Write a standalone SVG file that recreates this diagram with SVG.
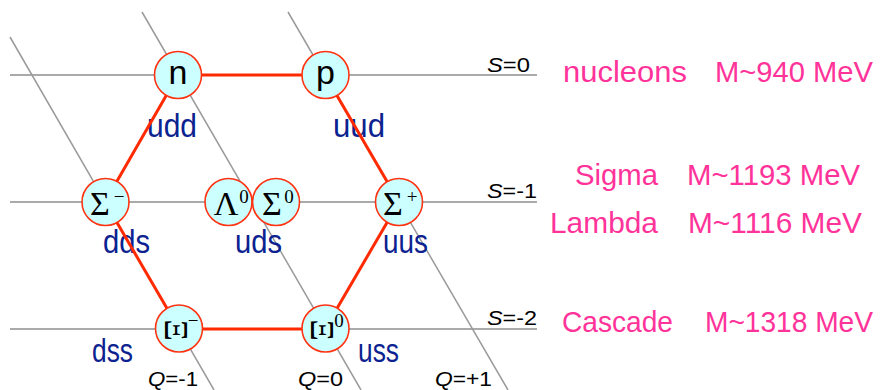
<svg xmlns="http://www.w3.org/2000/svg" width="880" height="390" viewBox="0 0 880 390">
<style>
.h{stroke:#aaaaaa;stroke-width:2;fill:none}
.d{stroke:#9a9a9a;stroke-width:1.5;fill:none}
.e{stroke:#ff2a00;stroke-width:3;fill:none}
.c{fill:#ccffff;stroke:#ff3311;stroke-width:1.6}
.q{font-family:"Liberation Sans",Arial,sans-serif;font-size:34px;fill:#0b2290}
.m{font-family:"Liberation Sans",Arial,sans-serif;font-size:30px;fill:#ff3399}
.s{font-family:"Liberation Sans",Arial,sans-serif;font-size:20px;fill:#000}
.l{font-family:"Liberation Sans",Arial,sans-serif;font-size:34px;fill:#000;text-anchor:middle}
.g{font-family:"Liberation Serif","Times New Roman",serif;font-size:34px;fill:#000;text-anchor:middle}
.x{font-family:"Liberation Serif","Times New Roman",serif;font-size:33px;fill:#000;text-anchor:middle}
.sup{font-family:"Liberation Serif","Times New Roman",serif;font-size:19px;fill:#000;text-anchor:middle}
</style>
<rect width="880" height="390" fill="#ffffff"/>
<g id="grid">
<line class="h" x1="10" y1="75" x2="537" y2="75"/>
<line class="h" x1="10" y1="202" x2="537" y2="202"/>
<line class="h" x1="10" y1="329" x2="537" y2="329"/>
<line class="d" x1="10" y1="37" x2="214" y2="390"/>
<line class="d" x1="142" y1="12" x2="361" y2="390"/>
<line class="d" x1="288" y1="12" x2="508" y2="390"/>
</g>
<g id="quark-labels">
<text class="q" x="147" y="137" textLength="50" lengthAdjust="spacingAndGlyphs">udd</text>
<text class="q" x="333" y="137" textLength="52" lengthAdjust="spacingAndGlyphs">uud</text>
<text class="q" x="103" y="253" textLength="47" lengthAdjust="spacingAndGlyphs">dds</text>
<text class="q" x="235" y="253" textLength="47" lengthAdjust="spacingAndGlyphs">uds</text>
<text class="q" x="383" y="253" textLength="45" lengthAdjust="spacingAndGlyphs">uus</text>
<text class="q" x="92" y="362" textLength="41" lengthAdjust="spacingAndGlyphs">dss</text>
<text class="q" x="358" y="362" textLength="41" lengthAdjust="spacingAndGlyphs">uss</text>
</g>
<g id="connectors">
<line class="e" x1="178" y1="75" x2="325" y2="75"/>
<line class="e" x1="325" y1="75" x2="399" y2="202"/>
<line class="e" x1="399" y1="202" x2="325" y2="329"/>
<line class="e" x1="325" y1="329" x2="179" y2="329"/>
<line class="e" x1="179" y1="329" x2="105" y2="202"/>
<line class="e" x1="105" y1="202" x2="178" y2="75"/>
</g>
<g id="node-n"><circle class="c" cx="178" cy="75" r="23.5"/><text class="l" x="178" y="84">n</text></g>
<g id="node-p"><circle class="c" cx="325.5" cy="75" r="23.5"/><text class="l" x="325.5" y="84">p</text></g>
<g id="node-sigma-minus"><circle class="c" cx="105.5" cy="202" r="23.5"/><text class="g" x="100" y="215">Σ</text><text class="sup" x="119" y="203">−</text></g>
<g id="node-lambda0"><circle class="c" cx="228.5" cy="202" r="23.5"/><text class="g" x="226" y="215">Λ</text><text class="sup" x="244" y="203">0</text></g>
<g id="node-sigma0"><circle class="c" cx="276" cy="202" r="23.5"/><text class="g" x="272" y="215">Σ</text><text class="sup" x="289" y="203">0</text></g>
<g id="node-sigma-plus"><circle class="c" cx="399" cy="202" r="23.5"/><text class="g" x="393" y="215">Σ</text><text class="sup" x="412" y="203">+</text></g>
<g id="node-xi-minus"><circle class="c" cx="179" cy="328.5" r="23.5"/><text class="x" transform="translate(176,330) rotate(90)" x="0" y="11">Ξ</text><text class="sup" x="193" y="327">−</text></g>
<g id="node-xi0"><circle class="c" cx="325.5" cy="328.5" r="23.5"/><text class="x" transform="translate(322,330) rotate(90)" x="0" y="11">Ξ</text><text class="sup" x="339" y="327">0</text></g>
<g id="axis-labels">
<text class="s" x="487" y="72" textLength="43" lengthAdjust="spacingAndGlyphs"><tspan font-style="italic">S</tspan>=0</text>
<text class="s" x="487" y="198" textLength="50" lengthAdjust="spacingAndGlyphs"><tspan font-style="italic">S</tspan>=-1</text>
<text class="s" x="487" y="325" textLength="50" lengthAdjust="spacingAndGlyphs"><tspan font-style="italic">S</tspan>=-2</text>
<text class="s" x="148" y="386" textLength="50" lengthAdjust="spacingAndGlyphs"><tspan font-style="italic">Q</tspan>=-1</text>
<text class="s" x="298" y="386" textLength="45" lengthAdjust="spacingAndGlyphs"><tspan font-style="italic">Q</tspan>=0</text>
<text class="s" x="435" y="386" textLength="57" lengthAdjust="spacingAndGlyphs"><tspan font-style="italic">Q</tspan>=+1</text>
</g>
<g id="mass-labels">
<text class="m" x="563" y="82" textLength="124" lengthAdjust="spacingAndGlyphs">nucleons</text>
<text class="m" x="715" y="82" textLength="158" lengthAdjust="spacingAndGlyphs">M~940 MeV</text>
<text class="m" x="575" y="185" textLength="83" lengthAdjust="spacingAndGlyphs">Sigma</text>
<text class="m" x="687" y="185" textLength="173" lengthAdjust="spacingAndGlyphs">M~1193 MeV</text>
<text class="m" x="550" y="233" textLength="108" lengthAdjust="spacingAndGlyphs">Lambda</text>
<text class="m" x="688" y="233" textLength="174" lengthAdjust="spacingAndGlyphs">M~1116 MeV</text>
<text class="m" x="562" y="332" textLength="111" lengthAdjust="spacingAndGlyphs">Cascade</text>
<text class="m" x="705" y="332" textLength="168" lengthAdjust="spacingAndGlyphs">M~1318 MeV</text>
</g>
</svg>
